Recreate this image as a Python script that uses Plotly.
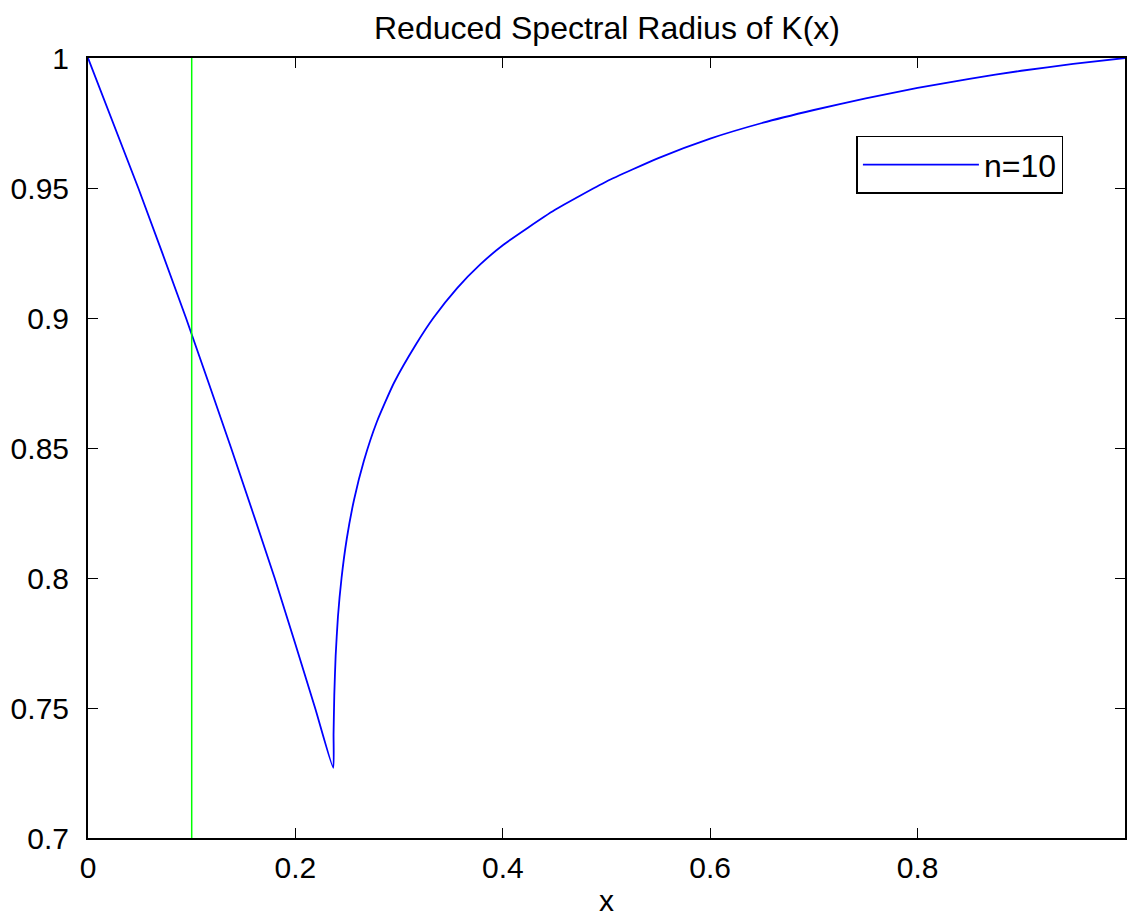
import plotly.graph_objects as go

# Data
x_vals = [0.0, 0.0485, 0.0945, 0.1380, 0.1800, 0.2190, 0.2365,
          0.2368, 0.2375, 0.2388, 0.2410, 0.2445, 0.2495, 0.2565, 0.2660,
          0.2785, 0.2950, 0.3165, 0.3330, 0.3560, 0.3780, 0.400, 0.450,
          0.500, 0.550, 0.600, 0.650, 0.700, 0.750, 0.800, 0.850, 0.900,
          0.950, 1.000]
rho_vals = [1.0, 0.95, 0.90, 0.85, 0.80, 0.75, 0.727,
            0.740, 0.755, 0.770, 0.785, 0.800, 0.815, 0.830, 0.845,
            0.860, 0.875, 0.890, 0.900, 0.9115, 0.9205, 0.928, 0.9415,
            0.9525, 0.9615, 0.969, 0.975, 0.980, 0.9845, 0.9885, 0.992, 0.9951,
            0.9977, 1.0]
marker_x = [0.1, 0.1]
marker_y = [0.7, 1.0]
x_ticks = [0, 0.2, 0.4, 0.6, 0.8, 1]
y_ticks = [0.7, 0.75, 0.8, 0.85, 0.9, 0.95, 1]

fig = go.Figure()
fig.add_trace(go.Scatter(x=x_vals, y=rho_vals, mode="lines", name="n=10",
                         line=dict(color="#0000FF", width=1.8, shape="spline", smoothing=0.5)))
fig.add_trace(go.Scatter(x=marker_x, y=marker_y, mode="lines", showlegend=False,
                         line=dict(color="#00FF00", width=1.5)))

font = "Liberation Sans, Arial, sans-serif"
FS = 30
axis_common = dict(showgrid=False, zeroline=False, showline=True, linecolor="black",
                   linewidth=2, mirror="ticks", ticks="inside", ticklen=10,
                   tickcolor="black", tickwidth=1,
                   tickfont=dict(family=font, size=FS, color="black"))
fig.update_xaxes(range=[0, 1], tickvals=x_ticks,
                 ticktext=[f"{v:g}" for v in x_ticks], ticklabelstandoff=2,
                 title=dict(text="x", font=dict(family=font, size=FS, color="black"), standoff=12),
                 **axis_common)
fig.update_yaxes(range=[0.7, 1], tickvals=y_ticks, ticklabelstandoff=11,
                 ticktext=[f"{v:g}" for v in y_ticks], **axis_common)

fig.update_layout(
    width=1127, height=917,
    margin=dict(l=88, r=0, t=58, b=77),
    paper_bgcolor="white", plot_bgcolor="white",
    title=dict(text="Reduced Spectral Radius of K(x)", x=607 / 1127, xanchor="center",
               y=1 - 28 / 917, yanchor="middle",
               font=dict(family=font, size=32, color="black")),
    legend=dict(x=0.741, y=0.9003, xanchor="left", yanchor="top",
                bgcolor="white", bordercolor="black", borderwidth=1.5,
                font=dict(family=font, size=32, color="black"), itemwidth=116),
    showlegend=True,
)

fig.write_html("out.html")
